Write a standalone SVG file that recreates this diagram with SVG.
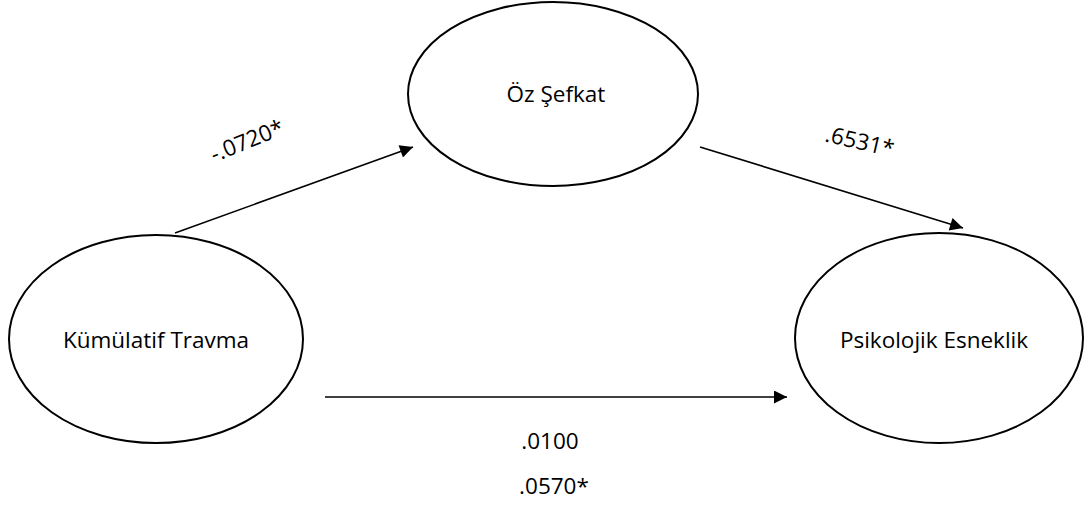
<svg xmlns="http://www.w3.org/2000/svg" width="1085" height="518" viewBox="0 0 1085 518">
  <style>
    .node { fill: #ffffff; stroke: #000000; stroke-width: 2; }
    .label { font-family: "Open Sans", "Liberation Sans", sans-serif; font-size: 22.5px; fill: #000000; text-anchor: middle; }
    .edge { stroke: #000000; stroke-width: 1.6; fill: none; marker-end: url(#arrow); }
  </style>
  <defs>
    <marker id="arrow" viewBox="0 0 10 10" refX="10" refY="5" markerWidth="16" markerHeight="13" markerUnits="userSpaceOnUse" orient="auto">
      <path d="M0,0 L10,5 L0,10 Z" fill="#000000"/>
    </marker>
  </defs>
  <rect width="1085" height="518" fill="#ffffff"/>
  <g id="node-kumulatif">
    <ellipse class="node" cx="156" cy="339" rx="147" ry="104"/>
    <text class="label" x="156" y="348">Kümülatif Travma</text>
  </g>
  <g id="node-oz-sefkat">
    <ellipse class="node" cx="553" cy="94" rx="145" ry="92"/>
    <text class="label" x="556" y="102">Öz Şefkat</text>
  </g>
  <g id="node-psikolojik">
    <ellipse class="node" cx="939" cy="338" rx="144" ry="105"/>
    <text class="label" x="934" y="348">Psikolojik Esneklik</text>
  </g>
  <g id="connectors">
    <line class="edge" x1="175" y1="233" x2="413" y2="147"/>
    <line class="edge" x1="700" y1="147" x2="963" y2="228"/>
    <line class="edge" x1="325" y1="397" x2="787" y2="397"/>
  </g>
  <g id="edge-labels">
    <text class="label" transform="translate(250,148) rotate(-22)">-.0720*</text>
    <text class="label" transform="translate(858,149) rotate(13)">.6531*</text>
    <text class="label" x="550" y="449">.0100</text>
    <text class="label" x="554" y="494">.0570*</text>
  </g>
</svg>
